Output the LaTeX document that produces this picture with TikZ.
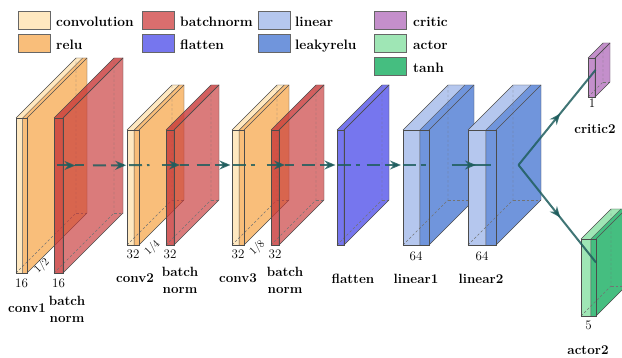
\documentclass[tikz,border=0pt]{standalone}
\usetikzlibrary{arrows.meta,decorations.markings}
\definecolor{cConv}{HTML}{FFE8C0}
\definecolor{cRelu}{HTML}{F9BE7A}
\definecolor{cBN}{HTML}{C83838}
\definecolor{cBNsw}{HTML}{DA6E6E}
\definecolor{cFlat}{HTML}{7676EE}
\definecolor{cLin}{HTML}{B5C7EE}
\definecolor{cLeaky}{HTML}{7095DC}
\definecolor{cCritic}{HTML}{C48FCB}
\definecolor{cActor}{HTML}{9FE6B5}
\definecolor{cTanh}{HTML}{45BE80}
\definecolor{cConn}{HTML}{1F5E5E}
% #1 name, #2 x0, #3 w, #4 top y, #5 h, #6 depth, #7 style A, #8 style B, #9 band start fraction
\newcommand{\slab}[9]{%
  \pgfmathsetmacro\sXa{#2}%
  \pgfmathsetmacro\sXb{#2+#3*#9}%
  \pgfmathsetmacro\sXc{#2+#3}%
  \pgfmathsetmacro\sYt{#4}%
  \pgfmathsetmacro\sYb{#4+#5}%
  \pgfmathsetmacro\sD{#6}%
  \pgfmathsetmacro\sYm{#4+#5/2-#6/2}%
  \fill[#7] (\sXa,\sYt) rectangle (\sXb,\sYb);
  \fill[#8] (\sXb,\sYt) rectangle (\sXc,\sYb);
  \fill[#7] (\sXa,\sYt) -- (\sXb,\sYt) -- (\sXb+\sD,\sYt-\sD) -- (\sXa+\sD,\sYt-\sD) -- cycle;
  \fill[#8] (\sXb,\sYt) -- (\sXc,\sYt) -- (\sXc+\sD,\sYt-\sD) -- (\sXb+\sD,\sYt-\sD) -- cycle;
  \fill[#8] (\sXc,\sYt) -- (\sXc,\sYb) -- (\sXc+\sD,\sYb-\sD) -- (\sXc+\sD,\sYt-\sD) -- cycle;
  \draw[hidln] (\sXa,\sYb) -- (\sXa+\sD,\sYb-\sD) -- (\sXa+\sD,\sYt-\sD);
  \draw[hidln] (\sXa+\sD,\sYb-\sD) -- (\sXc+\sD,\sYb-\sD);
  \draw[boxline] (\sXa,\sYt) rectangle (\sXc,\sYb);
  \draw[boxline] (\sXa,\sYt) -- (\sXa+\sD,\sYt-\sD) -- (\sXc+\sD,\sYt-\sD) -- (\sXc+\sD,\sYb-\sD) -- (\sXc,\sYb);
  \draw[boxline] (\sXc,\sYt) -- (\sXc+\sD,\sYt-\sD);
  \draw[boxline] (\sXb,\sYb) -- (\sXb,\sYt) -- (\sXb+\sD,\sYt-\sD);
  \coordinate (#1-west) at (\sXa+\sD/2,\sYm);
  \coordinate (#1-east) at (\sXc+\sD/2,\sYm);
}
\begin{document}
\begin{tikzpicture}[x=1pt,y=-1pt,
  boxline/.style={draw=black!70,line width=0.45pt},
  hidln/.style={draw=black!55,line width=0.4pt,dash pattern=on 2.5pt off 2pt},
  cvA/.style={fill=cConv}, cvB/.style={fill=cRelu},
  bnA/.style={fill=cBN,fill opacity=0.8}, bnB/.style={fill=cBN,fill opacity=0.66},
  flA/.style={fill=cFlat},
  liA/.style={fill=cLin}, liB/.style={fill=cLeaky},
  crA/.style={fill=cCritic},
  acA/.style={fill=cActor}, acB/.style={fill=cTanh},
  sw/.style={draw=black!60,line width=0.5pt,minimum width=32pt,minimum height=18pt,inner sep=0pt,anchor=north west},
  legtxt/.style={font=\fontsize{13.7}{15}\selectfont\bfseries,inner sep=0pt,anchor=base west},
  lab/.style={font=\fontsize{13.4}{17}\selectfont\bfseries,inner sep=0pt,anchor=base},
  lab2/.style={font=\fontsize{13.4}{17}\selectfont\bfseries,inner sep=0pt,anchor=north,align=center},
  num/.style={font=\fontsize{13}{15}\selectfont,inner sep=0pt,anchor=base},
  fracl/.style={font=\fontsize{11}{12}\selectfont,inner sep=0pt,rotate=45},
  conn/.style={draw=cConn,draw opacity=0.85,line width=2pt},
  dsh/.style={dash pattern=on 13pt off 5pt},
  midarr/.style={postaction={decorate},decoration={markings,
     mark=at position 0.5 with {\pgftransformxshift{5pt}\arrow[cConn]{Stealth[length=11pt,width=9pt]}}}}
]
\useasboundingbox (0,0) rectangle (622,358);
\fill[white] (0,0) rectangle (622,358);

% legend
\node[sw,fill=cConv] (lg1) at (18,11) {};
\node[sw,fill=cRelu] (lg2) at (18,34) {};
\node[sw,fill=cBNsw] (lg3) at (142,11) {};
\node[sw,fill=cFlat] (lg4) at (142,34) {};
\node[sw,fill=cLin] (lg5) at (258,11) {};
\node[sw,fill=cLeaky] (lg6) at (258,34) {};
\node[sw,fill=cCritic] (lg7) at (374,11) {};
\node[sw,fill=cActor] (lg8) at (374,34) {};
\node[sw,fill=cTanh] (lg9) at (374,57) {};
\node[legtxt] (lt1) at (56,27) {convolution};
\node[legtxt] (lt2) at (56,50) {relu};
\node[legtxt] (lt3) at (180,27) {batchnorm};
\node[legtxt] (lt4) at (180,50) {flatten};
\node[legtxt] (lt5) at (295,27) {linear};
\node[legtxt] (lt6) at (295,50) {leakyrelu};
\node[legtxt] (lt7) at (413,27) {critic};
\node[legtxt] (lt8) at (413,50) {actor};
\node[legtxt] (lt9) at (413,73) {tanh};

% boxes
\slab{conv1}{16}{11}{118}{155}{60}{cvA}{cvB}{0.6}
\slab{bn1}{54}{9}{118}{155}{60}{bnA}{bnB}{1}
\slab{conv2}{127}{12}{130}{115}{45}{cvA}{cvB}{0.6}
\slab{bn2}{166}{8}{130}{115}{45}{bnA}{bnB}{1}
\slab{conv3}{232}{12}{130}{115}{45}{cvA}{cvB}{0.6}
\slab{bn3}{271}{8}{130}{115}{45}{bnA}{bnB}{1}
\slab{flat}{337}{7}{130}{115}{45}{flA}{flA}{1}
\slab{lin1}{403}{26}{130}{115}{45}{liA}{liB}{0.65}
\slab{lin2}{468}{28}{130}{115}{45}{liA}{liB}{0.64}
\slab{critic}{588}{7}{58}{39}{15}{crA}{crA}{1}
\slab{actor}{581}{15}{239}{77}{30}{acA}{acB}{0.66}

% connections
\draw[conn,dsh,midarr] (conv1-east) -- (bn1-west);
\draw[conn,dsh,midarr] (bn1-east) -- (conv2-west);
\draw[conn,dsh,midarr] (conv2-east) -- (bn2-west);
\draw[conn,dsh,midarr] (bn2-east) -- (conv3-west);
\draw[conn,dsh,midarr] (conv3-east) -- (bn3-west);
\draw[conn,dsh,midarr] (bn3-east) -- (flat-west);
\draw[conn,dsh,midarr] (flat-east) -- (lin1-west);
\draw[conn,midarr] (lin1-east) -- (lin2-west);
\draw[conn,midarr] (lin2-east) -- (critic-west);
\draw[conn,midarr] (lin2-east) -- (actor-west);

% numbers
\node[num] (n1) at (21.5,288) {16};
\node[num] (n2) at (58.5,288) {16};
\node[num] (n3) at (133,259) {32};
\node[num] (n4) at (170,259) {32};
\node[num] (n5) at (238,259) {32};
\node[num] (n6) at (275,259) {32};
\node[num] (n7) at (416,261) {64};
\node[num] (n8) at (482,261) {64};
\node[num] (n9) at (592,108) {1};
\node[num] (n10) at (588.5,330) {5};
\node[fracl] (f1) at (42,266) {1/2};
\node[fracl] (f2) at (152.5,248) {1/4};
\node[fracl] (f3) at (257.5,248) {1/8};

% captions
\node[lab] (c1) at (27,313) {conv1};
\node[lab2] (c2) at (67,296) {batch\\norm};
\node[lab] (c3) at (135,283) {conv2};
\node[lab2] (c4) at (180,267) {batch\\norm};
\node[lab] (c5) at (238,283) {conv3};
\node[lab2] (c6) at (285,267) {batch\\norm};
\node[lab] (c7) at (353,284) {flatten};
\node[lab] (c8) at (416,284) {linear1};
\node[lab] (c9) at (481,284) {linear2};
\node[lab] (c10) at (595,134) {critic2};
\node[lab] (c11) at (588,355) {actor2};
\end{tikzpicture}
\end{document}
